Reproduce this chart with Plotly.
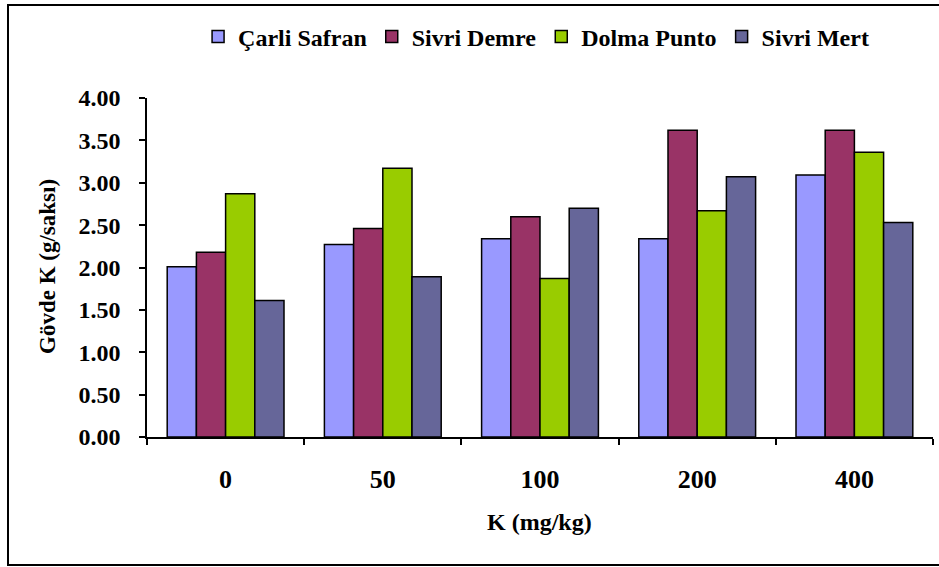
import plotly.graph_objects as go

categories = ["0", "50", "100", "200", "400"]
carli_safran = [2.01, 2.27, 2.34, 2.34, 3.09]
sivri_demre = [2.18, 2.46, 2.60, 3.62, 3.62]
dolma_punto = [2.87, 3.17, 1.87, 2.67, 3.36]
sivri_mert = [1.61, 1.89, 2.70, 3.07, 2.53]

series_names = ["Çarli Safran", "Sivri Demre", "Dolma Punto", "Sivri Mert"]
series_values = [carli_safran, sivri_demre, dolma_punto, sivri_mert]
colors = ["#9999FF", "#993366", "#99CC00", "#666699"]

W, H = 939, 567
L, R, T, B = 147, 6, 98, 130
pw = W - L - R
ph = H - T - B

def px_x(p):
    return (p - L) / pw

def px_y(p):
    return (H - B - p) / ph

FONT = "Times New Roman, Liberation Serif, serif"

fig = go.Figure()
for name, vals, col in zip(series_names, series_values, colors):
    fig.add_trace(go.Bar(
        x=categories, y=vals, name=name,
        marker=dict(color=col, line=dict(color="black", width=1.5)),
    ))

fig.update_layout(
    width=W, height=H,
    margin=dict(l=L, r=R, t=T, b=B),
    paper_bgcolor="white", plot_bgcolor="white",
    barmode="group", bargap=0.257, bargroupgap=0,
    font=dict(family=FONT, color="black"),
    legend=dict(
        orientation="h", x=0.495, xanchor="center", y=px_y(37), yanchor="middle",
        font=dict(family=FONT, size=24, color="black", weight="bold"),
        itemwidth=30, tracegroupgap=0, bgcolor="rgba(0,0,0,0)",
    ),
    xaxis=dict(
        type="category", showgrid=False, showline=True, linecolor="black", linewidth=1.5,
        ticks="outside", ticklen=6, tickwidth=1.5, tickcolor="black", tickson="boundaries",
        tickfont=dict(family=FONT, size=26, color="black", weight="bold"),
        ticklabelstandoff=18,
    ),
    yaxis=dict(
        range=[0, 4], dtick=0.5, tickformat=".2f", showgrid=False, zeroline=False,
        showline=True, linecolor="black", linewidth=1.5,
        ticks="outside", ticklen=6, tickwidth=1.5, tickcolor="black",
        tickfont=dict(family=FONT, size=24, color="black", weight="bold"),
        ticklabelstandoff=14,
    ),
    annotations=[
        dict(text="K (mg/kg)", xref="paper", yref="paper", x=px_x(539), y=px_y(522),
             xanchor="center", yanchor="middle", showarrow=False,
             font=dict(family=FONT, size=24, color="black", weight="bold")),
        dict(text="Gövde K (g/saksı)", xref="paper", yref="paper", x=px_x(47), y=px_y(267),
             xanchor="center", yanchor="middle", showarrow=False, textangle=-90,
             font=dict(family=FONT, size=23, color="black", weight="bold")),
    ],
    shapes=[
        dict(type="rect", xref="paper", yref="paper",
             x0=px_x(8), x1=px_x(950), y0=px_y(565), y1=px_y(5),
             line=dict(color="black", width=2), fillcolor="rgba(0,0,0,0)", layer="below"),
    ],
)

fig.write_html("out.html")
